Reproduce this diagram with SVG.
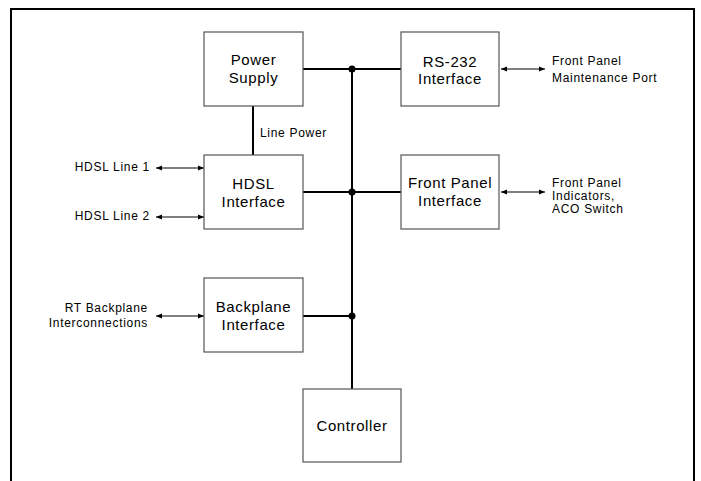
<svg xmlns="http://www.w3.org/2000/svg" width="701" height="481" viewBox="0 0 701 481">
<defs>
<marker id="ah" viewBox="0 0 6 6" refX="6" refY="3" markerWidth="6" markerHeight="6" markerUnits="userSpaceOnUse" orient="auto-start-reverse">
<path d="M0,0.5 L6,3 L0,5.5 Z" fill="#000"/>
</marker>
<style>
.box{fill:#fff;stroke:#555;stroke-width:1.2}
.bt{font-family:"Liberation Sans",Arial,sans-serif;font-size:15px;fill:#000;text-anchor:middle;letter-spacing:0.6px}
.st{font-family:"Liberation Sans",Arial,sans-serif;font-size:12px;fill:#000;letter-spacing:0.7px}
.bus{stroke:#000;stroke-width:2;fill:none}
.arr{stroke:#000;stroke-width:1.2;fill:none;marker-start:url(#ah);marker-end:url(#ah)}
.dot{fill:#000}
</style>
</defs>
<rect width="701" height="481" fill="#fff"/>
<path d="M11,481 V9 H694 V481" fill="none" stroke="#000" stroke-width="2"/>
<g id="connectors">
<line class="bus" x1="352" y1="69" x2="352" y2="389"/>
<line class="bus" x1="303" y1="69" x2="401" y2="69"/>
<line class="bus" x1="303" y1="192" x2="401" y2="192"/>
<line class="bus" x1="303" y1="316" x2="352" y2="316"/>
<line class="bus" x1="253" y1="106" x2="253" y2="155"/>
<circle class="dot" cx="352" cy="69" r="3.5"/>
<circle class="dot" cx="352" cy="192" r="3.5"/>
<circle class="dot" cx="352" cy="316" r="3.5"/>
<line class="arr" x1="156" y1="168" x2="204" y2="168"/>
<line class="arr" x1="156" y1="217" x2="204" y2="217"/>
<line class="arr" x1="156" y1="316" x2="204" y2="316"/>
<line class="arr" x1="501" y1="69" x2="545" y2="69"/>
<line class="arr" x1="501" y1="192" x2="545" y2="192"/>
<text class="st" x="260" y="137">Line Power</text>
</g>
<g id="power-supply">
<rect class="box" x="204" y="32" width="99" height="74"/>
<text class="bt" x="253.5" y="65">Power</text>
<text class="bt" x="253.5" y="83">Supply</text>
</g>
<g id="hdsl-interface">
<rect class="box" x="204" y="155" width="99" height="74"/>
<text class="bt" x="253.5" y="189">HDSL</text>
<text class="bt" x="253.5" y="207">Interface</text>
</g>
<g id="backplane-interface">
<rect class="box" x="204" y="278" width="99" height="74"/>
<text class="bt" x="253.5" y="312">Backplane</text>
<text class="bt" x="253.5" y="330">Interface</text>
</g>
<g id="rs232-interface">
<rect class="box" x="401" y="32" width="98" height="74"/>
<text class="bt" x="450" y="67">RS-232</text>
<text class="bt" x="450" y="84">Interface</text>
</g>
<g id="front-panel-interface">
<rect class="box" x="401" y="155" width="98" height="74"/>
<text class="bt" x="450" y="188">Front Panel</text>
<text class="bt" x="450" y="206">Interface</text>
</g>
<g id="controller">
<rect class="box" x="303" y="389" width="98" height="73"/>
<text class="bt" x="352" y="431">Controller</text>
</g>
<g id="hdsl-line-1"><text class="st" x="150" y="171" text-anchor="end">HDSL Line 1</text></g>
<g id="hdsl-line-2"><text class="st" x="150" y="220" text-anchor="end">HDSL Line 2</text></g>
<g id="rt-backplane">
<text class="st" x="148" y="312" text-anchor="end">RT Backplane</text>
<text class="st" x="148" y="327" text-anchor="end">Interconnections</text>
</g>
<g id="front-panel-maintenance">
<text class="st" x="552" y="65">Front Panel</text>
<text class="st" x="552" y="82">Maintenance Port</text>
</g>
<g id="front-panel-indicators">
<text class="st" x="552" y="187">Front Panel</text>
<text class="st" x="552" y="200">Indicators,</text>
<text class="st" x="552" y="213">ACO Switch</text>
</g>
</svg>
